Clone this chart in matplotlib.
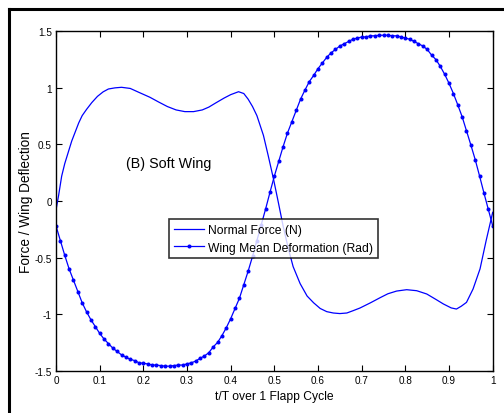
import numpy as np
import matplotlib
matplotlib.use("Agg")
import matplotlib.pyplot as plt
from matplotlib.lines import Line2D

plt.rcParams['font.family'] = ['Liberation Sans', 'DejaVu Sans']

# ---- data ----
deform_t = [i / 100 for i in range(101)]
deform_v = [
    -0.22, -0.35, -0.48, -0.60, -0.70, -0.80, -0.90, -0.98, -1.05, -1.11,
    -1.17, -1.22, -1.26, -1.30, -1.33, -1.36, -1.38, -1.40, -1.41, -1.43,
    -1.435, -1.44, -1.45, -1.45, -1.455, -1.46, -1.46, -1.455, -1.45, -1.45,
    -1.44, -1.43, -1.415, -1.39, -1.37, -1.34, -1.29, -1.25, -1.19, -1.12,
    -1.04, -0.95, -0.86, -0.74, -0.62, -0.49, -0.35, -0.21, -0.07, 0.077,
    0.22, 0.35, 0.48, 0.60, 0.70, 0.80, 0.90, 0.98, 1.055, 1.11,
    1.17, 1.22, 1.27, 1.31, 1.34, 1.37, 1.39, 1.41, 1.43, 1.44,
    1.45, 1.45, 1.46, 1.46, 1.465, 1.465, 1.465, 1.46, 1.46, 1.45,
    1.44, 1.43, 1.41, 1.39, 1.37, 1.34, 1.29, 1.25, 1.19, 1.12,
    1.04, 0.95, 0.85, 0.745, 0.62, 0.495, 0.365, 0.22, 0.07, -0.075,
    -0.22,
]

force_t = [
    0.000, 0.006, 0.013, 0.020, 0.028, 0.036, 0.044, 0.052, 0.060, 0.070,
    0.082, 0.095, 0.108, 0.120, 0.135, 0.150, 0.170, 0.190, 0.215, 0.235,
    0.255, 0.275, 0.295, 0.315, 0.335, 0.350, 0.365, 0.385, 0.400, 0.418,
    0.430, 0.440, 0.450, 0.460, 0.475, 0.486, 0.498, 0.509, 0.520, 0.532,
    0.543, 0.559, 0.575, 0.590, 0.605, 0.620, 0.635, 0.650, 0.666, 0.680,
    0.696, 0.720, 0.742, 0.760, 0.780, 0.803, 0.826, 0.849, 0.870, 0.887,
    0.905, 0.917, 0.928, 0.940, 0.955, 0.971, 0.985, 1.000,
]
force_v = [
    -0.08, 0.05, 0.22, 0.33, 0.43, 0.53, 0.61, 0.69, 0.755, 0.81,
    0.87, 0.925, 0.965, 0.99, 1.0, 1.005, 0.995, 0.96, 0.917, 0.875,
    0.835, 0.805, 0.79, 0.79, 0.805, 0.83, 0.865, 0.91, 0.94, 0.966,
    0.95, 0.90, 0.835, 0.755, 0.58, 0.40, 0.195, -0.01, -0.22, -0.42,
    -0.58, -0.73, -0.84, -0.90, -0.95, -0.978, -0.99, -0.995, -0.99, -0.97,
    -0.946, -0.90, -0.855, -0.82, -0.796, -0.784, -0.793, -0.822, -0.87, -0.91,
    -0.945, -0.955, -0.93, -0.896, -0.778, -0.60, -0.35, -0.10,
]

xticks = [0, 0.1, 0.2, 0.3, 0.4, 0.5, 0.6, 0.7, 0.8, 0.9, 1]
xticklabels = ['0', '0.1', '0.2', '0.3', '0.4', '0.5', '0.6', '0.7', '0.8', '0.9', '1']
yticks = [-1.5, -1, -0.5, 0, 0.5, 1, 1.5]
yticklabels = ['-1.5', '-1', '-0.5', '0', '0.5', '1', '1.5']

# ---- figure ----
W, H = 504, 414
fig = plt.figure(figsize=(W / 100, H / 100), dpi=100)
fig.patch.set_facecolor('white')

ax = fig.add_axes([56 / W, 1 - 371.7 / H, (492.7 - 56) / W, (371.7 - 32.3) / H])

blue = '#0000FF'
ax.plot(force_t, force_v, color=blue, lw=0.9, label='Normal Force (N)')
ax.plot(deform_t, deform_v, color=blue, lw=0.9, marker='o', markersize=2.9,
        markeredgewidth=0, label='Wing Mean Deformation (Rad)')

ax.set_xlim(0, 1)
ax.set_ylim(-1.5, 1.5)
ax.set_xticks(xticks)
ax.set_xticklabels(xticklabels)
ax.set_yticks(yticks)
ax.set_yticklabels(yticklabels)
ax.tick_params(direction='in', top=True, right=True, length=4, width=0.8,
               labelsize=7.2, pad=3, colors='black')
for s in ax.spines.values():
    s.set_linewidth(1.0)
    s.set_color('black')

ax.set_xlabel('t/T over 1 Flapp Cycle', fontsize=8.7, labelpad=4)
ax.set_ylabel('Force / Wing Deflection', fontsize=9.8, labelpad=0)
ax.yaxis.set_label_coords(-(56 - 33) / 436.7, 0.5)

ax.text(0.16, 0.34, '(B) Soft Wing', fontsize=10.3, ha='left', va='center')

leg = ax.legend(loc='upper left', bbox_to_anchor=((169.3 - 56) / 436.7, (371.7 - 220.3) / 339.4),
                fontsize=8.7, frameon=True, fancybox=False, borderpad=0.4,
                handlelength=2.5, handletextpad=0.3, labelspacing=0.45,
                borderaxespad=0)
leg.get_frame().set_edgecolor('black')
leg.get_frame().set_linewidth(1.2)

# outer figure frame (cut off on right/bottom)
fig.add_artist(Line2D([9 / W, 9 / W], [0, 1 - 10 / H], transform=fig.transFigure,
                      color='black', lw=2.2))
fig.add_artist(Line2D([9 / W, 1], [1 - 10 / H, 1 - 10 / H], transform=fig.transFigure,
                      color='black', lw=2.2))

fig.savefig('out.png', dpi=100)
